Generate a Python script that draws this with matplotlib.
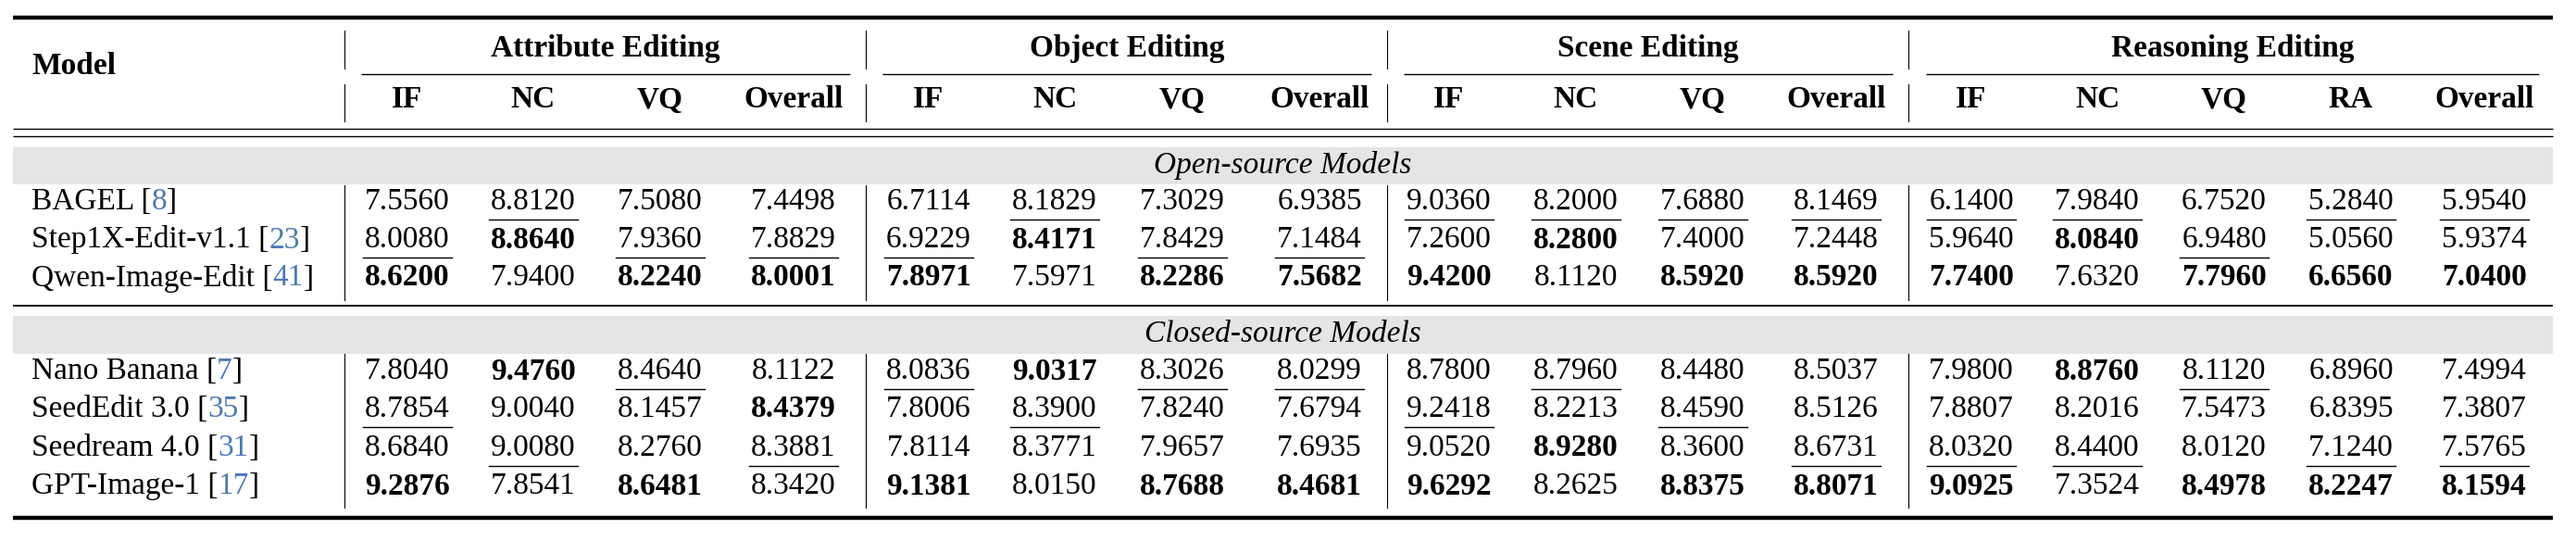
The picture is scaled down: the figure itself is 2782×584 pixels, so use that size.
import matplotlib
matplotlib.use("Agg")
import matplotlib.pyplot as plt

groups = ["Attribute Editing", "Object Editing", "Scene Editing", "Reasoning Editing"]
subcols = [["IF", "NC", "VQ", "Overall"], ["IF", "NC", "VQ", "Overall"],
           ["IF", "NC", "VQ", "Overall"], ["IF", "NC", "VQ", "RA", "Overall"]]
sections = ["Open-source Models", "Closed-source Models"]
open_models = [("BAGEL", "8"), ("Step1X-Edit-v1.1", "23"), ("Qwen-Image-Edit", "41")]
closed_models = [("Nano Banana", "7"), ("SeedEdit 3.0", "35"), ("Seedream 4.0", "31"), ("GPT-Image-1", "17")]
# value strings; suffix b = bold (best), u = underline (second)
open_vals = [
    "7.5560 8.8120u 7.5080 7.4498 6.7114 8.1829u 7.3029 6.9385 9.0360u 8.2000u 7.6880u 8.1469u 6.1400u 7.9840u 6.7520 5.2840u 5.9540u",
    "8.0080u 8.8640b 7.9360u 7.8829u 6.9229u 8.4171b 7.8429u 7.1484u 7.2600 8.2800b 7.4000 7.2448 5.9640 8.0840b 6.9480u 5.0560 5.9374",
    "8.6200b 7.9400 8.2240b 8.0001b 7.8971b 7.5971 8.2286b 7.5682b 9.4200b 8.1120 8.5920b 8.5920b 7.7400b 7.6320 7.7960b 6.6560b 7.0400b",
]
closed_vals = [
    "7.8040 9.4760b 8.4640u 8.1122 8.0836u 9.0317b 8.3026u 8.0299u 8.7800 8.7960u 8.4480 8.5037 7.9800 8.8760b 8.1120u 6.8960 7.4994",
    "8.7854u 9.0040 8.1457 8.4379b 7.8006 8.3900u 7.8240 7.6794 9.2418u 8.2213 8.4590u 8.5126 7.8807 8.2016 7.5473 6.8395 7.3807",
    "8.6840 9.0080u 8.2760 8.3881u 7.8114 8.3771 7.9657 7.6935 9.0520 8.9280b 8.3600 8.6731u 8.0320u 8.4400u 8.0120 7.1240u 7.5765u",
    "9.2876b 7.8541 8.6481b 8.3420 9.1381b 8.0150 8.7688b 8.4681b 9.6292b 8.2625 8.8375b 8.8071b 9.0925b 7.3524 8.4978b 8.2247b 8.1594b",
]

W, H = 2782, 584
fig = plt.figure(figsize=(W / 100, H / 100), dpi=100)
ax = fig.add_axes([0, 0, 1, 1])
ax.set_xlim(0, W); ax.set_ylim(H, 0); ax.axis("off")
FONT = "Liberation Serif"; FS = 24
BLUE = "#4a78b8"

col_x = [440, 576, 713, 857, 1003, 1139, 1277, 1425, 1565, 1702, 1839, 1983, 2129, 2265, 2402, 2539, 2683]
grp_span = [(390, 918), (953, 1481), (1516, 2044), (2080, 2742)]
seps = [372, 935, 1498, 2061]
L, R = 14, 2757

def hl(y, lw, x0=L, x1=R):
    ax.plot([x0, x1], [y, y], color="black", lw=lw, solid_capstyle="butt")

hl(19, 3.2)
hl(139, 1.0); hl(147, 1.0)
hl(330, 1.3)
hl(559, 3.2)
for a, b in grp_span:
    hl(80, 1.0, a, b)
for x in seps:
    for y0, y1 in [(33, 74), (91, 131), (200, 324), (382, 548)]:
        ax.plot([x, x], [y0, y1], color="black", lw=0.8)

ax.text(34, 72, "Model", fontfamily=FONT, fontsize=FS, fontweight="bold", va="center", ha="left")
for g, (a, b) in zip(groups, grp_span):
    ax.text((a + b) / 2, 52, g, fontfamily=FONT, fontsize=FS, fontweight="bold", va="center", ha="center")
flat_sub = [s for grp in subcols for s in grp]
for x, s in zip(col_x, flat_sub):
    ax.text(x, 108, s, fontfamily=FONT, fontsize=FS, fontweight="bold", va="center", ha="center")

for (y0, y1, yt), name in zip([(159, 199, 178), (341, 382, 361)], sections):
    ax.add_patch(plt.Rectangle((L, y0), R - L, y1 - y0, color="#e5e5e5", lw=0))
    ax.text((L + R) / 2, yt, name, fontfamily=FONT, fontsize=FS, style="italic", va="center", ha="center")

def row(y, model, vals):
    name, cite = model
    t = ax.text(34, y, name + " [", fontfamily=FONT, fontsize=FS, va="center", ha="left")
    t2 = ax.annotate(cite, xy=(1, 0), xycoords=t, va="bottom", ha="left", color=BLUE,
                     fontfamily=FONT, fontsize=FS)
    ax.annotate("]", xy=(1, 0), xycoords=t2, va="bottom", ha="left", fontfamily=FONT, fontsize=FS)
    for x, v in zip(col_x, vals.split()):
        st = v[-1] if v[-1] in "bu" else ""
        txt = v.rstrip("bu")
        ax.text(x, y, txt, fontfamily=FONT, fontsize=FS, va="center", ha="center",
                fontweight="bold" if st == "b" else "normal")
        if st == "u":
            ax.plot([x - 48, x + 48], [y + 19, y + 19], color="black", lw=1.0)

for y, m, v in zip([218, 259, 300], open_models, open_vals):
    row(y, m, v)
for y, m, v in zip([401, 442, 484, 525], closed_models, closed_vals):
    row(y, m, v)

fig.savefig("out.png", dpi=100)
